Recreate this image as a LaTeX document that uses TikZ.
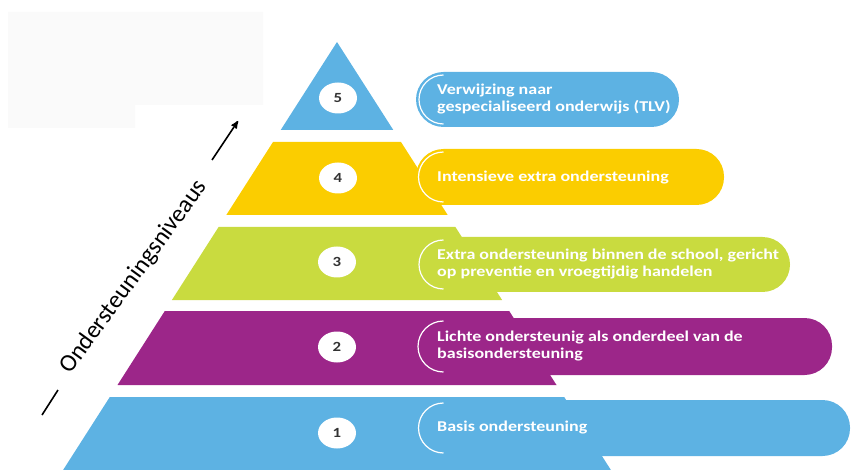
\documentclass[tikz,border=0pt]{standalone}
\usepackage{fontspec}
\setmainfont{Carlito}[FakeStretch=1.2]
\newfontfamily\levelfont{Carlito}
\usetikzlibrary{arrows,shapes.geometric}

\definecolor{levelblue}{HTML}{5DB2E3}
\definecolor{levelyellow}{HTML}{FBCD00}
\definecolor{levelgreen}{HTML}{C9DB3F}
\definecolor{levelpurple}{HTML}{9C2689}
\definecolor{numbergray}{HTML}{333333}
\definecolor{ghostgray}{HTML}{FAFAFA}

\begin{document}
\begin{tikzpicture}[x=1pt, y=-1pt,
    pill/.style={rounded corners=27.5pt},
    pill edge/.style={draw=white, line width=1.2pt},
    pill text/.style={anchor=west, text=white, align=left, inner sep=0pt,
        font=\fontsize{15}{17}\selectfont\bfseries},
    number/.style={ellipse, fill=white, minimum width=38pt, minimum height=31pt,
        inner sep=0pt, text=numbergray, font=\fontsize{14}{14}\selectfont\bfseries},
    axis/.style={line width=1.6pt, ->, >=stealth'},
    dash line/.style={line width=1.6pt}
    ]

\useasboundingbox (0,0) rectangle (851,470);

\fill[ghostgray] (8,12) -- (263,12) -- (263,105) -- (135,105) -- (135,128) -- (8,128) -- cycle;

\fill[levelblue] (337,42) -- (393.3,130) -- (280.7,130) -- cycle;
\fill[levelyellow] (273,142) -- (401,142) -- (447.7,215) -- (226.3,215) -- cycle;
\fill[levelgreen] (218.6,227) -- (455.4,227) -- (502.1,300) -- (171.9,300) -- cycle;
\fill[levelpurple] (164.8,311) -- (509.2,311) -- (556.5,385) -- (117.5,385) -- cycle;
\fill[levelblue] (109.8,397) -- (564.2,397) -- (610.9,470) -- (63.1,470) -- cycle;

\node[number] (n5) at (338,98) {5};
\node[number] (n4) at (338,178) {4};
\node[number] (n3) at (337,262) {3};
\node[number] (n2) at (337,347) {2};
\node[number] (n1) at (337,433) {1};

\fill[levelblue, pill] (416,72) rectangle (679,127);
\draw[pill edge] (443.5,124) arc[start angle=270, end angle=90, radius=24.5pt];
\node[pill text] (t5) at (437,99.5) {Verwijzing naar\\gespecialiseerd onderwijs (TLV)};

\fill[levelyellow, pill] (416,149) rectangle (724,205);
\draw[pill edge] (443.5,202) arc[start angle=270, end angle=90, radius=25pt];
\node[pill text] (t4) at (437,177.5) {Intensieve extra ondersteuning};

\fill[levelgreen, pill] (416,237) rectangle (790,292);
\draw[pill edge] (443.5,289) arc[start angle=270, end angle=90, radius=24.5pt];
\node[pill text] (t3) at (437,264.5) {Extra ondersteuning binnen de school, gericht\\op preventie en vroegtijdig handelen};

\fill[levelpurple, pill] (416,318) rectangle (832,375);
\draw[pill edge] (443.5,372) arc[start angle=270, end angle=90, radius=25.5pt];
\node[pill text] (t2) at (437,346.5) {Lichte ondersteunig als onderdeel van de\\basisondersteuning};

\fill[levelblue, pill] (416,400) rectangle (850,456);
\draw[pill edge] (443.5,453) arc[start angle=270, end angle=90, radius=25pt];
\node[pill text] (t1) at (437,428) {Basis ondersteuning};

\node[rotate=54, font=\levelfont\fontsize{24.5}{24.5}\selectfont] (levels) at (134,277) {Ondersteuningsniveaus};

\coordinate (dash start) at (42,415);
\coordinate (dash end) at (58,390);
\draw[dash line] (dash start) -- (dash end);

\coordinate (arrow start) at (212,160);
\coordinate (arrow end) at (238,121);
\draw[axis] (arrow start) -- (arrow end);

\end{tikzpicture}
\end{document}
